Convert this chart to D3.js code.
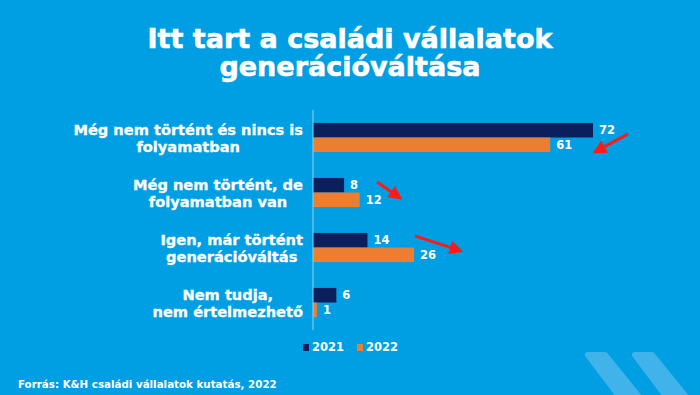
<!DOCTYPE html>
<html>
<head>
<meta charset="utf-8">
<script src="https://cdn.jsdelivr.net/npm/d3@7"></script>
<style>
  html, body { margin: 0; padding: 0; background: #009fe3; }
  svg { display: block; font-family: 'DejaVu Sans', Verdana, sans-serif; font-weight: bold; }
</style>
</head>
<body>
<svg id="chart" width="700" height="395"></svg>
<script>
// chart data
const titleLines = ['Itt tart a családi vállalatok', 'generációváltása'];
const categories = [
  ['Még nem történt és nincs is', 'folyamatban'],
  ['Még nem történt, de', 'folyamatban van'],
  ['Igen, már történt', 'generációváltás'],
  ['Nem tudja,', 'nem értelmezhető']
];
const seriesNames = ['2021', '2022'];
const values2021 = [72, 8, 14, 6];
const values2022 = [61, 12, 26, 1];
const source = 'Forrás: K&H családi vállalatok kutatás, 2022';
// red annotation arrows: category index, [x from, x to] in data units, [y from, y to] relative to band
const arrowCats = [0, 1, 2];
const arrowX = [[81, 72.5], [16.5, 22.4], [26.2, 38]];
const arrowY = [[11, 29], [4, 20], [3, 18]];

const colors = {'2021': '#0b1f5c', '2022': '#ed7d31'};

const svg = d3.select('#chart');
const W = 700, H = 395;

svg.append('rect').attr('width', W).attr('height', H).attr('fill', '#009fe3');

// decorative chevrons, bottom right
const chev = svg.append('g').attr('fill', '#40b3ea').attr('stroke', '#40b3ea')
  .attr('stroke-width', 6).attr('stroke-linejoin', 'round');
[0, 47].forEach(dx => {
  chev.append('path')
    .attr('d', `M${588 + dx},355 L${605 + dx},355 L${648 + dx},408 L${628 + dx},408 Z`);
});

// title
svg.append('text')
  .attr('x', W / 2).attr('y', 48)
  .attr('text-anchor', 'middle')
  .attr('fill', '#fff')
  .attr('stroke', '#fff').attr('stroke-width', 0.6)
  .attr('font-size', 27)
  .selectAll('tspan')
  .data(titleLines)
  .enter().append('tspan')
    .attr('x', W / 2)
    .attr('dy', (d, i) => i ? 28 : 0)
    .text(d => d);

const keys = categories.map((c, i) => i);
const x = d3.scaleLinear().domain([0, 72]).range([313, 593]);
const y = d3.scaleBand().domain(keys).range([110, 330]).paddingInner(0.47).paddingOuter(0.235);
const ySub = d3.scaleBand().domain(seriesNames).range([0, y.bandwidth()]);

const rows = keys.map(i => ({i, vals: [values2021[i], values2022[i]]}));

const group = svg.append('g').selectAll('g')
  .data(rows)
  .enter().append('g')
    .attr('transform', d => `translate(0,${y(d.i)})`);

group.selectAll('rect')
  .data(d => d.vals.map((v, k) => ({key: seriesNames[k], v})))
  .enter().append('rect')
    .attr('x', x(0))
    .attr('y', d => ySub(d.key))
    .attr('width', d => x(d.v) - x(0))
    .attr('height', ySub.bandwidth())
    .attr('fill', d => colors[d.key]);

group.selectAll('text.val')
  .data(d => d.vals.map((v, k) => ({key: seriesNames[k], v})))
  .enter().append('text')
    .attr('class', 'val')
    .attr('x', d => x(d.v) + 6)
    .attr('y', d => ySub(d.key) + ySub.bandwidth() / 2)
    .attr('dy', '0.36em')
    .attr('fill', '#fff')
    .attr('font-size', 11.5)
    .text(d => d.v);

// category labels, centered lines, right edge at axis
group.each(function(d) {
  const t = d3.select(this).append('text')
    .attr('text-anchor', 'middle')
    .attr('fill', '#fff')
    .attr('stroke', '#fff').attr('stroke-width', 0.3)
    .attr('font-size', 14.6);
  t.selectAll('tspan')
    .data(categories[d.i])
    .enter().append('tspan')
      .attr('x', 0)
      .attr('y', (s, k) => 12.5 + k * 17)
      .text(s => s);
  const bb = t.node().getBBox();
  t.attr('transform', `translate(${303 - bb.width / 2},0)`);
});

// axis line
svg.append('line')
  .attr('x1', x(0)).attr('x2', x(0))
  .attr('y1', y.range()[0]).attr('y2', y.range()[1])
  .attr('stroke', '#8fd3f3').attr('stroke-width', 1);

// arrows
const defs = svg.append('defs');
defs.append('marker')
  .attr('id', 'head')
  .attr('viewBox', '0 0 10 10')
  .attr('refX', 8).attr('refY', 5)
  .attr('markerWidth', 5).attr('markerHeight', 4.6)
  .attr('orient', 'auto')
  .append('path').attr('d', 'M0,0 L10,5 L0,10 Z').attr('fill', '#ff1a1a');

arrowCats.forEach((c, k) => {
  svg.append('line')
    .attr('x1', x(arrowX[k][0])).attr('x2', x(arrowX[k][1]))
    .attr('y1', y(c) + arrowY[k][0]).attr('y2', y(c) + arrowY[k][1])
    .attr('stroke', '#ff1a1a').attr('stroke-width', 3)
    .attr('marker-end', 'url(#head)');
});

// legend
const legend = svg.append('g').attr('transform', 'translate(303,347)');
seriesNames.forEach((s, k) => {
  const g = legend.append('g').attr('transform', `translate(${k * 54},0)`);
  g.append('rect').attr('x', 0).attr('y', -3).attr('width', 6).attr('height', 7).attr('fill', colors[s]);
  g.append('text').attr('x', 9).attr('y', 0).attr('dy', '0.36em')
    .attr('fill', '#fff').attr('font-size', 11.5).text(s);
});

// source
svg.append('text')
  .attr('x', 18).attr('y', 388)
  .attr('fill', '#fff')
  .attr('font-size', 10.3)
  .text(source);
</script>
</body>
</html>
